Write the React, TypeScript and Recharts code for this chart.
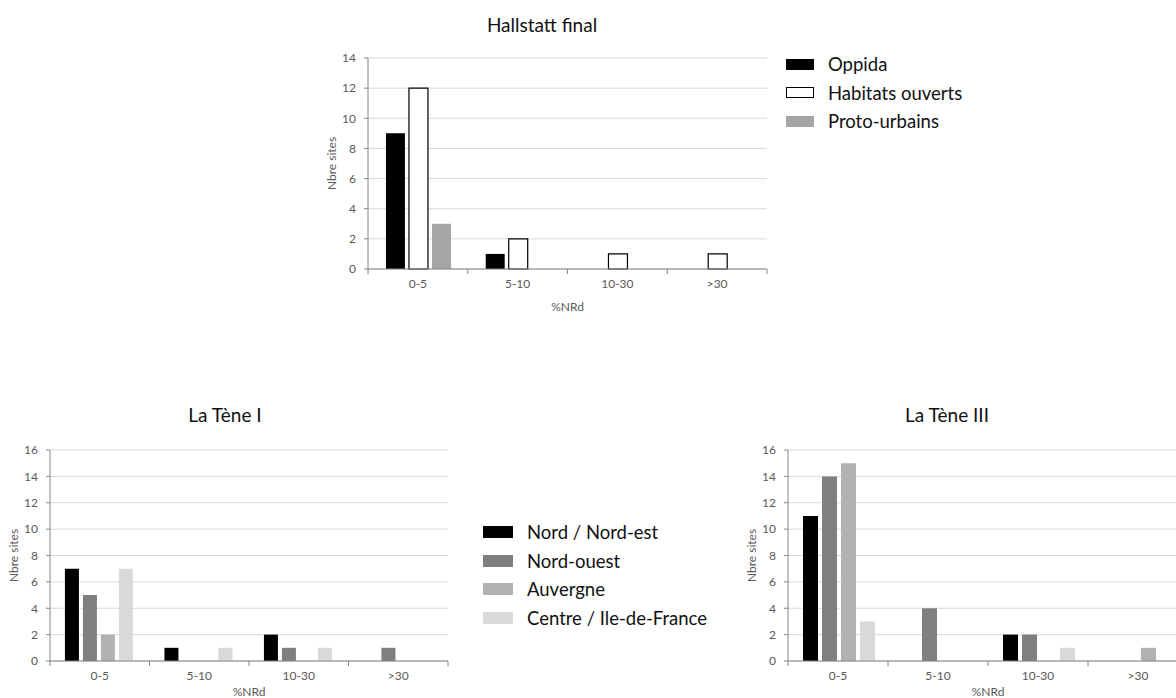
import { Bar, BarChart, CartesianGrid, Label, Legend, XAxis, YAxis } from 'recharts';

// %NRd classes shared by the three panels
const bins = ['0-5', '5-10', '10-30', '>30'];

// Hallstatt final
const hallstattOppida = [9, 1, 0, 0];
const hallstattHabitats = [12, 2, 1, 1];
const hallstattProto = [3, 0, 0, 0];

// La Tène I
const tene1Nord = [7, 1, 2, 0];
const tene1NordOuest = [5, 0, 1, 1];
const tene1Auvergne = [2, 0, 0, 0];
const tene1Centre = [7, 1, 1, 0];

// La Tène III
const tene3Nord = [11, 0, 2, 0];
const tene3NordOuest = [14, 4, 2, 0];
const tene3Auvergne = [15, 0, 0, 1];
const tene3Centre = [3, 0, 1, 0];

const ticksTop = [0, 2, 4, 6, 8, 10, 12, 14];
const ticksBottom = [0, 2, 4, 6, 8, 10, 12, 14, 16];

interface Series {
  key: string;
  name: string;
  fill: string;
  stroke?: string;
}

const siteSeries: Series[] = [
  { key: 'oppida', name: 'Oppida', fill: '#000000' },
  { key: 'habitats', name: 'Habitats ouverts', fill: '#ffffff', stroke: '#000000' },
  { key: 'proto', name: 'Proto-urbains', fill: '#a5a5a5' },
];

const regionSeries: Series[] = [
  { key: 'nord', name: 'Nord / Nord-est', fill: '#000000' },
  { key: 'nordOuest', name: 'Nord-ouest', fill: '#7f7f7f' },
  { key: 'auvergne', name: 'Auvergne', fill: '#b2b2b2' },
  { key: 'centre', name: 'Centre / Ile-de-France', fill: '#d9d9d9' },
];

const hallstattData = bins.map((bin, i) => ({
  bin,
  oppida: hallstattOppida[i],
  habitats: hallstattHabitats[i],
  proto: hallstattProto[i],
}));

const tene1Data = bins.map((bin, i) => ({
  bin,
  nord: tene1Nord[i],
  nordOuest: tene1NordOuest[i],
  auvergne: tene1Auvergne[i],
  centre: tene1Centre[i],
}));

const tene3Data = bins.map((bin, i) => ({
  bin,
  nord: tene3Nord[i],
  nordOuest: tene3NordOuest[i],
  auvergne: tene3Auvergne[i],
  centre: tene3Centre[i],
}));

const AXIS = '#868686';
const GRID = '#d9d9d9';
const TEXT = '#595959';
const FONT = 'Lato, "Open Sans", sans-serif';
const TICK_SIZE = 5;
const TICK_MARGIN = 5;

// category label plus a tick mark on the boundary between classes
const makeTick = (half: number) => (props: any) => {
  const { x, y, payload } = props;
  const axisY = y - TICK_SIZE - TICK_MARGIN;
  const last = payload.value === bins[bins.length - 1];
  return (
    <g>
      <line x1={x - half} x2={x - half} y1={axisY} y2={axisY + TICK_SIZE} stroke={AXIS} />
      {last && <line x1={x + half} x2={x + half} y1={axisY} y2={axisY + TICK_SIZE} stroke={AXIS} />}
      <text x={x} y={y} dy="0.71em" textAnchor="middle" fill={TEXT} fontSize={12} fontFamily={FONT}>
        {payload.value}
      </text>
    </g>
  );
};

const makeLegend = (series: Series[], box: { w: number; h: number }) => () => (
  <div>
    {series.map((s) => (
      <div key={s.key} style={{ display: 'flex', alignItems: 'center', height: 28.5 }}>
        <span
          style={{
            display: 'inline-block',
            width: box.w,
            height: box.h,
            background: s.fill,
            border: s.stroke ? `1.5px solid ${s.stroke}` : 'none',
            boxSizing: 'border-box',
            marginRight: 14,
          }}
        />
        <span style={{ fontFamily: FONT, fontSize: 18.5, color: '#111', whiteSpace: 'nowrap' }}>{s.name}</span>
      </div>
    ))}
  </div>
);

interface PanelProps {
  title: string;
  titleX: number;
  titleY: number;
  data: Record<string, string | number>[];
  series: Series[];
  ticks: number[];
  left: number;
  top: number;
  width: number;
  height: number;
  margin: { top: number; right: number; bottom: number; left: number };
  xAxisHeight: number;
  categoryGap: string;
  legendAt?: { left: number; top: number; w: number; h: number };
}

const Panel = (p: PanelProps): JSX.Element => {
  const plotWidth = p.width - p.margin.left - p.margin.right - 40;
  const half = plotWidth / bins.length / 2;
  return (
    <>
      <div
        style={{
          position: 'absolute',
          left: p.titleX - 150,
          top: p.titleY - 12,
          width: 300,
          height: 24,
          lineHeight: '24px',
          textAlign: 'center',
          fontFamily: FONT,
          fontSize: 19,
          color: '#111',
        }}
      >
        {p.title}
      </div>
      <div style={{ position: 'absolute', left: p.left, top: p.top }}>
        <BarChart
          width={p.width}
          height={p.height}
          data={p.data}
          margin={p.margin}
          barCategoryGap={p.categoryGap}
          barGap={4}
        >
          <CartesianGrid vertical={false} stroke={GRID} />
          <XAxis
            dataKey='bin'
            height={p.xAxisHeight}
            stroke={AXIS}
            tickLine={false}
            tickSize={TICK_SIZE}
            tickMargin={TICK_MARGIN}
            tick={makeTick(half)}
            interval={0}
          >
            <Label value='%NRd' position='insideBottom' offset={0} fill={TEXT} fontSize={12} fontFamily={FONT} />
          </XAxis>
          <YAxis
            width={40}
            domain={[0, p.ticks[p.ticks.length - 1]]}
            ticks={p.ticks}
            interval={0}
            stroke={AXIS}
            tickSize={4}
            tickMargin={8}
            tick={{ fill: TEXT, fontSize: 12, fontFamily: FONT }}
          >
            <Label
              value='Nbre sites'
              angle={-90}
              position='insideLeft'
              offset={4}
              fill={TEXT}
              fontSize={12}
              fontFamily={FONT}
              style={{ textAnchor: 'middle' }}
            />
          </YAxis>
          {p.series.map((s) => (
            <Bar
              key={s.key}
              dataKey={s.key}
              name={s.name}
              fill={s.fill}
              stroke={s.stroke}
              strokeWidth={s.stroke ? 1.2 : 0}
              isAnimationActive={false}
            />
          ))}
          {p.legendAt && (
            <Legend
              layout='vertical'
              align='center'
              verticalAlign='middle'
              content={makeLegend(p.series, { w: p.legendAt.w, h: p.legendAt.h })}
              wrapperStyle={{ left: p.legendAt.left, top: p.legendAt.top, width: 'auto', height: 'auto' }}
            />
          )}
        </BarChart>
      </div>
    </>
  );
};

const App = (): JSX.Element => (
  <div
    style={{
      position: 'absolute',
      left: 0,
      top: 0,
      width: 1176,
      height: 698,
      overflow: 'hidden',
      background: '#ffffff',
    }}
  >
    <Panel
      title='Hallstatt final'
      titleX={542}
      titleY={25}
      data={hallstattData}
      series={siteSeries}
      ticks={ticksTop}
      left={300}
      top={40}
      width={720}
      height={290}
      margin={{ top: 18, right: 253, bottom: 19, left: 28 }}
      xAxisHeight={42}
      categoryGap='18%'
      legendAt={{ left: 486, top: 10, w: 28, h: 11 }}
    />
    <Panel
      title='La Tène I'
      titleX={225}
      titleY={415}
      data={tene1Data}
      series={regionSeries}
      ticks={ticksBottom}
      left={0}
      top={430}
      width={740}
      height={268}
      margin={{ top: 20, right: 292, bottom: 2, left: 10 }}
      xAxisHeight={35}
      categoryGap='15%'
      legendAt={{ left: 483, top: 88, w: 30, h: 12 }}
    />
    <Panel
      title='La Tène III'
      titleX={947}
      titleY={415}
      data={tene3Data}
      series={regionSeries}
      ticks={ticksBottom}
      left={740}
      top={430}
      width={460}
      height={268}
      margin={{ top: 20, right: 12, bottom: 2, left: 8 }}
      xAxisHeight={35}
      categoryGap='15%'
    />
  </div>
);

export default App;
